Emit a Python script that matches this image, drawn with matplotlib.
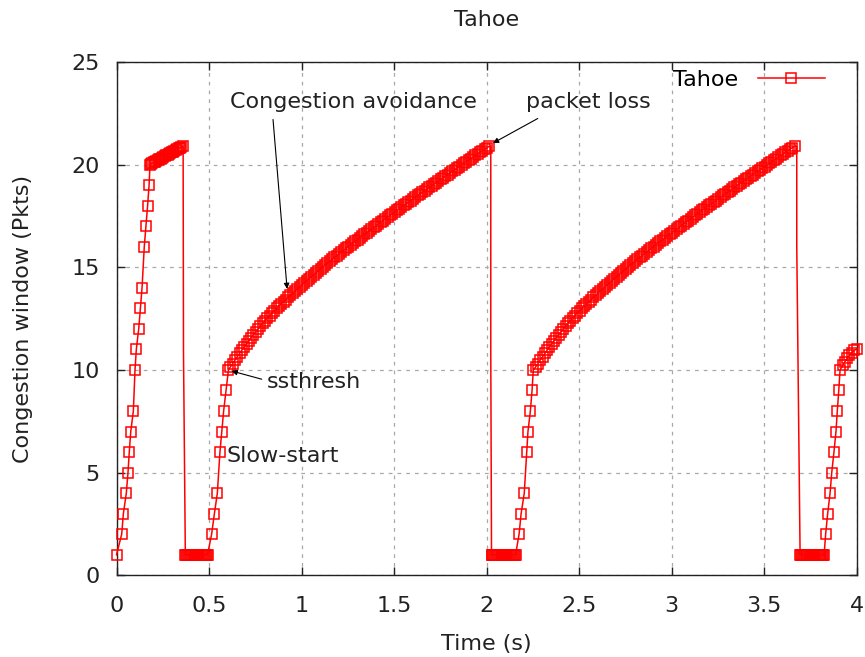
import matplotlib
matplotlib.use("Agg")
import matplotlib.pyplot as plt

# congestion window trace of a TCP Tahoe flow (time in s, window in packets)
ss1_t = [0.000, 0.028, 0.037, 0.053, 0.062, 0.069, 0.077, 0.091, 0.100, 0.107,
         0.120, 0.129, 0.138, 0.150, 0.159, 0.168, 0.176, 0.181]
ss1_w = [1, 2, 3, 4, 5, 6, 7, 8, 10, 11, 12, 13, 14, 16, 17, 18, 19, 20]

ca1_t = [0.186, 0.193, 0.201, 0.208, 0.216, 0.223, 0.231, 0.238, 0.246, 0.253,
         0.261, 0.268, 0.276, 0.283, 0.291, 0.298, 0.306, 0.313, 0.321, 0.328,
         0.336, 0.343, 0.351, 0.360]
ca1_w = [20.04, 20.08, 20.11, 20.15, 20.19, 20.23, 20.26, 20.30, 20.34, 20.38,
         20.41, 20.45, 20.49, 20.53, 20.56, 20.60, 20.64, 20.68, 20.71, 20.75,
         20.79, 20.82, 20.86, 20.90]

drop1_t = [0.362]
drop1_w = [10.9]

flat1_t = [0.372, 0.377, 0.382, 0.387, 0.392, 0.397, 0.402, 0.407, 0.412, 0.417,
           0.422, 0.427, 0.432, 0.437, 0.442, 0.447, 0.452, 0.457, 0.462, 0.467,
           0.472, 0.477, 0.482, 0.487, 0.492]
flat1_w = [1] * len(flat1_t)

ss2_t = [0.514, 0.529, 0.545, 0.559, 0.569, 0.579, 0.592, 0.605]
ss2_w = [2, 3, 4, 6, 7, 8, 9, 10]

ca2_t = [0.615, 0.628, 0.640, 0.653, 0.665, 0.678, 0.690, 0.703, 0.715, 0.728,
         0.740, 0.753, 0.765, 0.778, 0.790, 0.803, 0.815, 0.828, 0.840, 0.853,
         0.865, 0.878, 0.890, 0.903, 0.915, 0.928, 0.940, 0.953, 0.965, 0.978,
         0.990, 1.003, 1.015, 1.028, 1.040, 1.053, 1.065, 1.078, 1.090, 1.103,
         1.115, 1.128, 1.140, 1.153, 1.165, 1.178, 1.190, 1.203, 1.215, 1.228,
         1.240, 1.253, 1.265, 1.278, 1.290, 1.303, 1.315, 1.328, 1.340, 1.353,
         1.365, 1.378, 1.390, 1.403, 1.415, 1.428, 1.440, 1.453, 1.465, 1.478,
         1.490, 1.503, 1.515, 1.528, 1.540, 1.553, 1.565, 1.578, 1.590, 1.603,
         1.615, 1.628, 1.640, 1.653, 1.665, 1.678, 1.690, 1.703, 1.715, 1.728,
         1.740, 1.753, 1.765, 1.778, 1.790, 1.803, 1.815, 1.828, 1.840, 1.853,
         1.865, 1.878, 1.890, 1.903, 1.915, 1.928, 1.940, 1.953, 1.965, 1.978,
         1.990, 2.003, 2.015]
ca2_w = [10.14, 10.31, 10.48, 10.65, 10.81, 10.97, 11.12, 11.28, 11.43, 11.58,
         11.72, 11.86, 12.00, 12.14, 12.27, 12.40, 12.52, 12.65, 12.77, 12.89,
         13.00, 13.11, 13.22, 13.33, 13.43, 13.54, 13.64, 13.75, 13.85, 13.95,
         14.05, 14.15, 14.25, 14.35, 14.44, 14.54, 14.64, 14.74, 14.83, 14.93,
         15.02, 15.12, 15.21, 15.30, 15.39, 15.48, 15.56, 15.65, 15.74, 15.83,
         15.92, 16.01, 16.10, 16.18, 16.26, 16.35, 16.44, 16.53, 16.61, 16.69,
         16.77, 16.86, 16.94, 17.03, 17.11, 17.20, 17.28, 17.37, 17.45, 17.53,
         17.61, 17.69, 17.77, 17.86, 17.94, 18.02, 18.10, 18.18, 18.25, 18.34,
         18.42, 18.50, 18.58, 18.66, 18.73, 18.81, 18.89, 18.97, 19.05, 19.13,
         19.20, 19.28, 19.36, 19.44, 19.52, 19.60, 19.67, 19.75, 19.83, 19.91,
         19.99, 20.06, 20.13, 20.21, 20.29, 20.37, 20.45, 20.53, 20.60, 20.68,
         20.75, 20.83, 20.90]

drop2_t = [2.023, 2.023]
drop2_w = [20.9, 10.9]

flat2_t = [2.027, 2.032, 2.037, 2.042, 2.047, 2.052, 2.057, 2.062, 2.067, 2.072,
           2.077, 2.082, 2.087, 2.092, 2.097, 2.102, 2.107, 2.112, 2.117, 2.122,
           2.127, 2.132, 2.137, 2.142, 2.147, 2.152, 2.157]
flat2_w = [1] * len(flat2_t)

ss3_t = [2.176, 2.187, 2.204, 2.217, 2.224, 2.237, 2.246, 2.253]
ss3_w = [2, 3, 4, 6, 7, 8, 9, 10]

ca3_t = [2.265, 2.278, 2.290, 2.303, 2.315, 2.328, 2.340, 2.353, 2.365, 2.378,
         2.390, 2.403, 2.415, 2.428, 2.440, 2.453, 2.465, 2.478, 2.490, 2.503,
         2.515, 2.528, 2.540, 2.553, 2.565, 2.578, 2.590, 2.603, 2.615, 2.628,
         2.640, 2.653, 2.665, 2.678, 2.690, 2.703, 2.715, 2.728, 2.740, 2.753,
         2.765, 2.778, 2.790, 2.803, 2.815, 2.828, 2.840, 2.853, 2.865, 2.878,
         2.890, 2.903, 2.915, 2.928, 2.940, 2.953, 2.965, 2.978, 2.990, 3.003,
         3.015, 3.028, 3.040, 3.053, 3.065, 3.078, 3.090, 3.103, 3.115, 3.128,
         3.140, 3.153, 3.165, 3.178, 3.190, 3.203, 3.215, 3.228, 3.240, 3.253,
         3.265, 3.278, 3.290, 3.303, 3.315, 3.328, 3.340, 3.353, 3.365, 3.378,
         3.390, 3.403, 3.415, 3.428, 3.440, 3.453, 3.465, 3.478, 3.490, 3.503,
         3.515, 3.528, 3.540, 3.553, 3.565, 3.578, 3.590, 3.603, 3.615, 3.628,
         3.640, 3.653, 3.665]
ca3_w = [10.14, 10.31, 10.48, 10.65, 10.81, 10.97, 11.12, 11.28, 11.43, 11.58,
         11.72, 11.86, 12.00, 12.14, 12.27, 12.40, 12.52, 12.65, 12.77, 12.89,
         13.00, 13.11, 13.22, 13.33, 13.43, 13.54, 13.64, 13.75, 13.85, 13.95,
         14.05, 14.15, 14.25, 14.35, 14.44, 14.54, 14.64, 14.74, 14.83, 14.93,
         15.02, 15.12, 15.21, 15.30, 15.39, 15.48, 15.56, 15.65, 15.74, 15.83,
         15.92, 16.01, 16.10, 16.18, 16.26, 16.35, 16.44, 16.53, 16.61, 16.69,
         16.77, 16.86, 16.94, 17.03, 17.11, 17.20, 17.28, 17.37, 17.45, 17.53,
         17.61, 17.69, 17.77, 17.86, 17.94, 18.02, 18.10, 18.18, 18.25, 18.34,
         18.42, 18.50, 18.58, 18.66, 18.73, 18.81, 18.89, 18.97, 19.05, 19.13,
         19.20, 19.28, 19.36, 19.44, 19.52, 19.60, 19.67, 19.75, 19.83, 19.91,
         19.99, 20.06, 20.13, 20.21, 20.29, 20.37, 20.45, 20.53, 20.60, 20.68,
         20.75, 20.83, 20.90]

drop3_t = [3.677, 3.677, 3.689]
drop3_w = [20.9, 16.0, 6.0]

flat3_t = [3.695, 3.700, 3.705, 3.710, 3.715, 3.720, 3.725, 3.730, 3.735, 3.740,
           3.745, 3.750, 3.755, 3.760, 3.765, 3.770, 3.775, 3.780, 3.785, 3.790,
           3.795, 3.800, 3.805, 3.810, 3.815, 3.820, 3.825]
flat3_w = [1] * len(flat3_t)

ss4_t = [3.833, 3.844, 3.857, 3.866, 3.878, 3.889, 3.896, 3.904, 3.911]
ss4_w = [2, 3, 4, 5, 6, 7, 8, 9, 10]

ca4_t = [3.925, 3.937, 3.950, 3.962, 3.975, 3.987, 4.000]
ca4_w = [10.22, 10.40, 10.57, 10.72, 10.85, 10.95, 11.02]

# (times, windows, draw markers?) in trace order
segments = [
    (ss1_t, ss1_w, True), (ca1_t, ca1_w, True), (drop1_t, drop1_w, False),
    (flat1_t, flat1_w, True), (ss2_t, ss2_w, True), (ca2_t, ca2_w, True),
    (drop2_t, drop2_w, False), (flat2_t, flat2_w, True), (ss3_t, ss3_w, True),
    (ca3_t, ca3_w, True), (drop3_t, drop3_w, False), (flat3_t, flat3_w, True),
    (ss4_t, ss4_w, True), (ca4_t, ca4_w, True),
]

t, w, marks = [], [], []
for st, sw, m in segments:
    for a, b in zip(st, sw):
        if m:
            marks.append(len(t))
        t.append(a)
        w.append(b)

plt.rcParams['font.family'] = 'DejaVu Sans'
plt.rcParams['font.size'] = 16

fig, ax = plt.subplots(figsize=(8.65, 6.57), dpi=100)
fig.subplots_adjust(left=0.1347, right=0.9902, bottom=0.1244, top=0.9056)

red = '#ff0000'
ax.plot(t, w, color=red, lw=1.1, marker='s', markersize=7,
        markerfacecolor='none', markeredgecolor=red, markeredgewidth=1.1,
        markevery=marks, clip_on=False, label='Tahoe', zorder=3)

ax.set_xlim(0, 4)
ax.set_ylim(0, 25)
ax.set_xticks([0, 0.5, 1, 1.5, 2, 2.5, 3, 3.5, 4])
ax.set_xticklabels(['0', '0.5', '1', '1.5', '2', '2.5', '3', '3.5', '4'])
ax.set_yticks([0, 5, 10, 15, 20, 25])
ax.tick_params(direction='in', length=6, width=1, top=True, right=True,
               colors='#222222', labelcolor='#222222')
ax.tick_params(axis='x', pad=15)
ax.tick_params(axis='y', pad=12)
for s in ax.spines.values():
    s.set_color('#222222')
    s.set_linewidth(1.0)
ax.grid(True, color='#a8a8a8', linestyle=(0, (3, 4)), linewidth=0.9)

ax.set_title('Tahoe', fontsize=16, pad=26, color='#222222')
ax.set_xlabel('Time (s)', color='#222222', labelpad=13)
ax.set_ylabel('Congestion window (Pkts)', color='#222222', labelpad=28)

arrow = dict(arrowstyle='-|>', color='black', lw=0.8, mutation_scale=8,
             shrinkA=0, shrinkB=0)
ax.text(0.614, 23.05, 'Congestion avoidance', ha='left', va='center', color='#222222')
ax.annotate('', xy=(0.922, 13.95), xytext=(0.846, 22.2), arrowprops=arrow)
ax.text(2.215, 23.05, 'packet loss', ha='left', va='center', color='#222222')
ax.annotate('', xy=(2.035, 21.05), xytext=(2.277, 22.25), arrowprops=arrow)
ax.text(0.815, 9.4, 'ssthresh', ha='left', va='center', color='#222222')
ax.annotate('', xy=(0.622, 9.95), xytext=(0.785, 9.55), arrowprops=arrow)
ax.text(0.597, 5.8, 'Slow-start', ha='left', va='center', color='#222222')

ax.legend(loc='upper right', bbox_to_anchor=(0.957, 0.985), frameon=False,
          markerfirst=False, handlelength=3.0, handletextpad=0.9,
          borderpad=0, borderaxespad=0)

fig.savefig('out.png', dpi=100)
